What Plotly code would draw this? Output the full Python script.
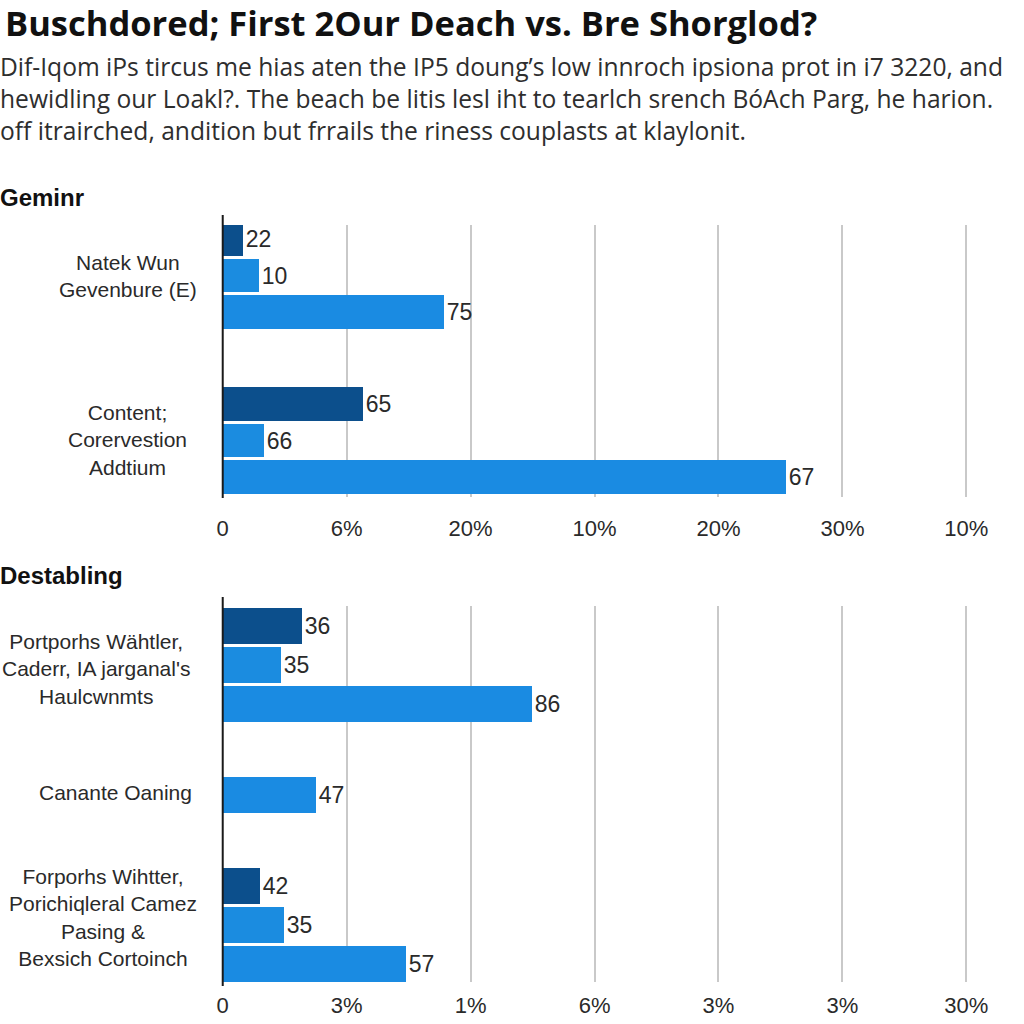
import plotly.graph_objects as go

# ---------------- data ----------------
title_text = "Buschdored; First 2Our Deach vs. Bre Shorglod?"
subtitle_lines = [
    "Dif-Iqom iPs tircus me hias aten the IP5 doung’s low innroch ipsiona prot in i7 3220, and",
    "hewidling our Loakl?. The beach be litis lesl iht to tearlch srench BóAch Parg, he harion.",
    "off itrairched, andition but frrails the riness couplasts at klaylonit.",
]

top_header = "Geminr"
top_groups = ["Natek Wun<br>Gevenbure (E)", "Content;<br>Corervestion<br>Addtium"]
top_dark = [0.16, 1.13]
top_dark_text = ["22", "65"]
top_mid = [0.29, 0.33]
top_mid_text = ["10", "66"]
top_bright = [1.78, 4.54]
top_bright_text = ["75", "67"]
top_ticks = ["0", "6%", "20%", "10%", "20%", "30%", "10%"]

bot_header = "Destabling"
bot_groups = [
    "Portporhs Wähtler,<br>Caderr, IA jarganal's<br>Haulcwnmts",
    "Canante Oaning",
    "Forporhs Wihtter,<br>Porichiqleral Camez<br>Pasing &<br>Bexsich Cortoinch",
]
bot_dark = [0.64, None, 0.30]
bot_dark_text = ["36", "", "42"]
bot_mid = [0.47, None, 0.49]
bot_mid_text = ["35", "", "35"]
bot_bright = [2.49, 0.75, 1.48]
bot_bright_text = ["86", "47", "57"]
bot_ticks = ["0", "3%", "1%", "6%", "3%", "3%", "30%"]

# ---------------- style ----------------
W = H = 1024
DARK = "#0c4f8c"
MID = "#1b8ce0"
BRIGHT = "#1a8be2"
FONT = "Liberation Sans, Arial, sans-serif"
TFONT = "Open Sans, Liberation Sans, sans-serif"
TXT = "#2a2a2a"

X0_PX = 218
X_PX_PER_UNIT = 124.67
X_RIGHT_PX = 1012

def py(px):
    return 1 - px / H

fig = go.Figure()

def add_panel(groups, dark, dtext, mid, mtext, bright, btext, group_gap, yax, xax):
    n = len(groups)
    centers = [i * group_gap for i in range(n)]
    series = [(dark, dtext, DARK, "Dark"), (mid, mtext, MID, "Mid"), (bright, btext, BRIGHT, "Bright")]
    for s_i, (vals, texts, col, name) in enumerate(series):
        ys, xs, ts = [], [], []
        for g in range(n):
            if vals[g] is None:
                continue
            present = [k for k in range(3) if series[k][0][g] is not None]
            off = 0 if len(present) == 1 else s_i - 1
            ys.append(centers[g] + off)
            xs.append(vals[g])
            ts.append(texts[g])
        fig.add_trace(go.Bar(
            x=xs, y=ys, orientation="h", width=0.93,
            marker=dict(color=col, line=dict(width=0)),
            text=ts, textposition="outside", constraintext="none", cliponaxis=False,
            textfont=dict(family=FONT, size=23, color=TXT),
            xaxis=xax, yaxis=yax, showlegend=False, name=name,
        ))
    return centers

top_gap = 4.52
bot_gap = 3.33

top_centers = add_panel(top_groups, top_dark, top_dark_text, top_mid, top_mid_text,
                        top_bright, top_bright_text, top_gap, "y", "x")
bot_centers = add_panel(bot_groups, bot_dark, bot_dark_text, bot_mid, bot_mid_text,
                        bot_bright, bot_bright_text, bot_gap, "y2", "x2")

top_dom_px = (225, 497)
top_zero_px = 275.5
top_ppu = 36.5
bot_dom_px = (606, 982)
bot_zero_px = 665
bot_ppu = 39.0

def yrange(dom, zero, ppu):
    return [(dom[1] - zero) / ppu, (dom[0] - zero) / ppu]

xr = [0, (X_RIGHT_PX - X0_PX) / X_PX_PER_UNIT]
xdom = [X0_PX / W, X_RIGHT_PX / W]

axis_common = dict(
    range=xr, domain=xdom, tickmode="array", tickvals=list(range(7)),
    showgrid=True, gridcolor="#c9c9c9", gridwidth=2, zeroline=False, showline=False,
    tickfont=dict(family=FONT, size=22, color=TXT), ticks="",
)

fig.update_layout(
    width=W, height=H, margin=dict(l=0, r=0, t=0, b=0),
    paper_bgcolor="white", plot_bgcolor="white",
    barmode="overlay", bargap=0,
    xaxis=dict(**axis_common, ticktext=top_ticks, anchor="y", ticklabelstandoff=16),
    yaxis=dict(range=yrange(top_dom_px, top_zero_px, top_ppu),
               domain=[py(top_dom_px[1]), py(top_dom_px[0])],
               showticklabels=False, showgrid=False, zeroline=False, anchor="x"),
    xaxis2=dict(**axis_common, ticktext=bot_ticks, anchor="y2", ticklabelstandoff=8),
    yaxis2=dict(range=yrange(bot_dom_px, bot_zero_px, bot_ppu),
                domain=[py(bot_dom_px[1]), py(bot_dom_px[0])],
                showticklabels=False, showgrid=False, zeroline=False, anchor="x2"),
)

for y0, y1 in [(215, 498), (597, 986)]:
    fig.add_shape(type="line", xref="paper", yref="paper",
                  x0=X0_PX / W, x1=X0_PX / W, y0=py(y1), y1=py(y0),
                  line=dict(color="#1a1a1a", width=2))

ann = []
ann.append(dict(text="<b>" + title_text + "</b>", x=0, xshift=-3, y=py(22), xref="paper", yref="paper",
                xanchor="left", yanchor="middle", showarrow=False,
                font=dict(family=TFONT, size=34.5, color="#111")))
for i, line in enumerate(subtitle_lines):
    ann.append(dict(text=line, x=0, xshift=-8, y=py(66 + 32 * i), xref="paper", yref="paper",
                    xanchor="left", yanchor="middle", showarrow=False,
                    font=dict(family=TFONT, size=24.6, color="#2e2e2e")))
for txt, yy in [(top_header, 197), (bot_header, 575)]:
    ann.append(dict(text="<b>" + txt + "</b>", x=0, xshift=-8, y=py(yy), xref="paper", yref="paper",
                    xanchor="left", yanchor="middle", showarrow=False,
                    font=dict(family=FONT, size=24, color="#111")))

top_label_x = [123, 122]
for g, c in enumerate(top_centers):
    ann.append(dict(text=top_groups[g], x=top_label_x[g] / W, y=c, xref="paper", yref="y",
                    xanchor="center", yanchor="middle", align="center", showarrow=False,
                    font=dict(family=FONT, size=21, color=TXT)))
bot_label_x = [91, 110, 98]
bot_label_shift = [-4, 2, 7]
for g, c in enumerate(bot_centers):
    ann.append(dict(text=bot_groups[g], x=bot_label_x[g] / W, y=c, xref="paper", yref="y2",
                    xanchor="center", yanchor="middle", align="center", showarrow=False,
                    yshift=bot_label_shift[g],
                    font=dict(family=FONT, size=21, color=TXT)))
fig.update_layout(annotations=ann)

fig.write_html("out.html", config={"displayModeBar": False},
               post_script="document.body.style.margin='0';document.body.style.overflow='hidden';")
